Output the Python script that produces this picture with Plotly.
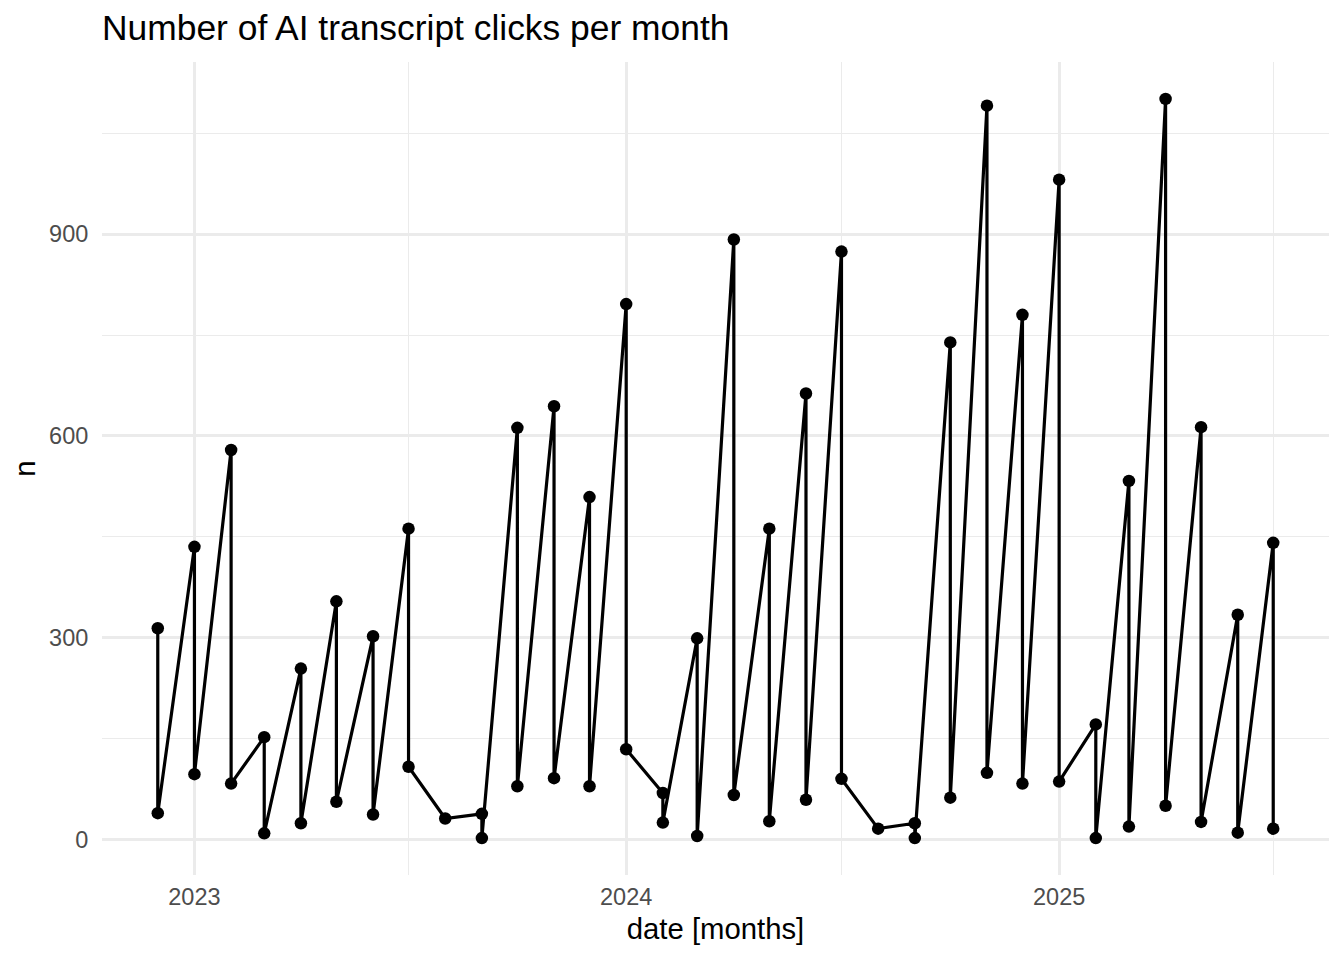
import plotly.graph_objects as go
import pandas as pd

# Data in plotting order (two readings per month, higher first)
date = [
    "2022-12-01", "2022-12-01",
    "2023-01-01", "2023-01-01",
    "2023-02-01", "2023-02-01",
    "2023-03-01", "2023-03-01",
    "2023-04-01", "2023-04-01",
    "2023-05-01", "2023-05-01",
    "2023-06-01", "2023-06-01",
    "2023-07-01", "2023-07-01",
    "2023-08-01",
    "2023-09-01", "2023-09-01",
    "2023-10-01", "2023-10-01",
    "2023-11-01", "2023-11-01",
    "2023-12-01", "2023-12-01",
    "2024-01-01", "2024-01-01",
    "2024-02-01", "2024-02-01",
    "2024-03-01", "2024-03-01",
    "2024-04-01", "2024-04-01",
    "2024-05-01", "2024-05-01",
    "2024-06-01", "2024-06-01",
    "2024-07-01", "2024-07-01",
    "2024-08-01",
    "2024-09-01", "2024-09-01",
    "2024-10-01", "2024-10-01",
    "2024-11-01", "2024-11-01",
    "2024-12-01", "2024-12-01",
    "2025-01-01", "2025-01-01",
    "2025-02-01", "2025-02-01",
    "2025-03-01", "2025-03-01",
    "2025-04-01", "2025-04-01",
    "2025-05-01", "2025-05-01",
    "2025-06-01", "2025-06-01",
    "2025-07-01", "2025-07-01",
]
n = [
    314, 39,
    435, 97,
    579, 83,
    152, 9,
    254, 24,
    354, 56,
    302, 37,
    462, 108,
    31,
    38, 2,
    612, 79,
    644, 91,
    509, 79,
    796, 134,
    69, 25,
    299, 5,
    892, 66,
    462, 27,
    663, 59,
    874, 90,
    16,
    24, 2,
    739, 62,
    1091, 99,
    780, 83,
    981, 86,
    171, 2,
    533, 19,
    1101, 50,
    613, 26,
    334, 10,
    441, 16,
]

x_major_ticks = ["2023-01-01", "2024-01-01", "2025-01-01"]
x_minor_ticks = ["2023-07-01", "2024-07-01", "2025-07-01"]
y_major_ticks = [0, 300, 600, 900]
y_minor_ticks = [150, 450, 750, 1050]

title_text = "Number of AI transcript clicks per month"
x_title = "date [months]"
y_title = "n"

# ggplot-style 5% expansion of the ranges
d = pd.to_datetime(date)
span = d.max() - d.min()
x_range = [d.min() - 0.05 * span, d.max() + 0.05 * span]
yspan = max(n) - min(n)
y_range = [min(n) - 0.05 * yspan, max(n) + 0.05 * yspan]

FONT = "Liberation Sans, Arial, Helvetica, sans-serif"
GRID = "#EBEBEB"

fig = go.Figure()
fig.add_trace(go.Scatter(
    x=date, y=n, mode="lines+markers",
    line=dict(color="black", width=3.2),
    marker=dict(color="black", size=12.5),
    showlegend=False,
))

fig.update_layout(
    width=1344, height=960, autosize=False,
    paper_bgcolor="white", plot_bgcolor="white",
    margin=dict(l=94, r=23, t=54, b=93),
    font=dict(family=FONT, color="black"),
    title=dict(text=title_text, x=0, xref="paper", xanchor="left",
               y=1 - 7 / 960, yref="container", yanchor="top",
               font=dict(size=35.4, family=FONT, color="black")),
)

fig.update_xaxes(
    type="date", range=x_range,
    tickvals=x_major_ticks, tickformat="%Y",
    tickfont=dict(size=23.5, color="#4D4D4D", family=FONT),
    ticks="outside", ticklen=1, tickcolor="rgba(0,0,0,0)",
    showgrid=True, gridcolor=GRID, gridwidth=2.6,
    minor=dict(tickvals=x_minor_ticks, showgrid=True, gridcolor=GRID, gridwidth=1.4, ticks=""),
    zeroline=False, showline=False,
    title=dict(text=x_title, font=dict(size=29.3, color="black", family=FONT), standoff=9),
)
fig.update_yaxes(
    range=y_range,
    tickvals=y_major_ticks,
    tickfont=dict(size=23.5, color="#4D4D4D", family=FONT),
    ticks="outside", ticklen=8, tickcolor="rgba(0,0,0,0)",
    showgrid=True, gridcolor=GRID, gridwidth=2.6,
    minor=dict(tickvals=y_minor_ticks, showgrid=True, gridcolor=GRID, gridwidth=1.4, ticks=""),
    zeroline=False, showline=False,
    title=dict(text=y_title, font=dict(size=29.3, color="black", family=FONT), standoff=5),
)

fig.write_html("out.html")
